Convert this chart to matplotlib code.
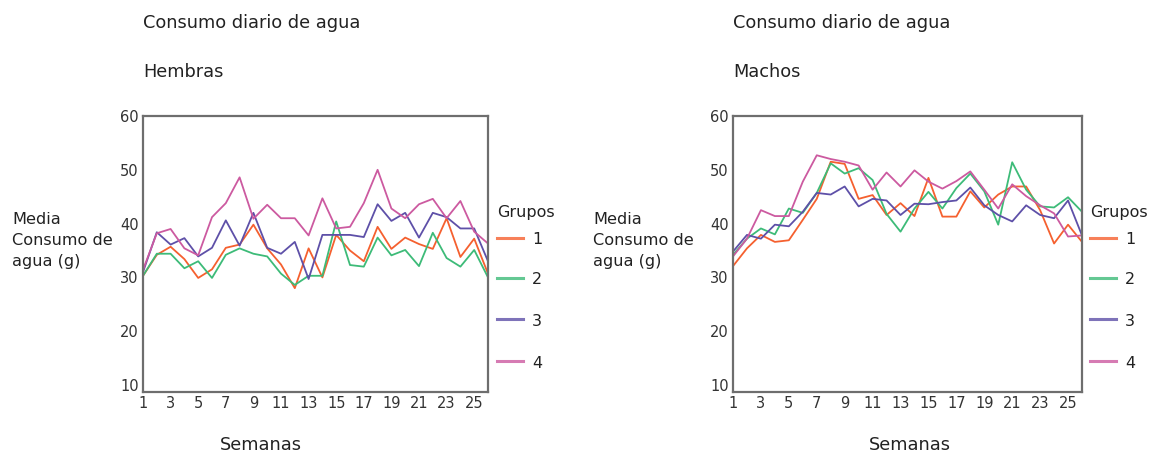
import matplotlib
matplotlib.use('Agg')
import matplotlib.pyplot as plt
from matplotlib.lines import Line2D

plt.rcParams['font.family'] = ['DejaVu Sans']

# weeks 1..26
weeks = list(range(1, 27))
groups = ['1', '2', '3', '4']
colors = ['#f5602f', '#3dbb78', '#5e50a8', '#cc5aa0']

# Hembras (females), one list per group
hem_g1 = [30.3, 34.2, 35.7, 33.4, 29.9, 31.5, 35.5, 36.1, 39.8, 35.4, 32.4, 28.0, 35.4,
          30.0, 37.9, 35.0, 33.0, 39.4, 35.3, 37.4, 36.2, 35.3, 41.0, 33.8, 37.2, 30.7]
hem_g2 = [30.3, 34.4, 34.4, 31.7, 33.0, 29.9, 34.2, 35.4, 34.4, 33.9, 30.7, 28.6, 30.3,
          30.3, 40.4, 32.3, 32.0, 37.4, 34.1, 35.1, 32.1, 38.3, 33.6, 32.0, 35.1, 30.0]
hem_g3 = [31.0, 38.4, 36.1, 37.3, 33.9, 35.5, 40.6, 35.9, 42.0, 35.5, 34.4, 36.6, 29.7,
          37.9, 37.9, 37.9, 37.5, 43.6, 40.5, 42.0, 37.4, 42.0, 41.2, 39.1, 39.1, 33.0]
hem_g4 = [31.4, 38.2, 39.0, 35.4, 34.1, 41.2, 43.8, 48.6, 40.9, 43.5, 41.0, 41.0, 37.8,
          44.7, 39.1, 39.4, 43.8, 50.0, 42.8, 41.0, 43.6, 44.6, 41.0, 44.2, 38.5, 36.3]

# Machos (males)
mac_g1 = [32.1, 35.4, 37.9, 36.6, 36.9, 40.7, 44.6, 51.5, 51.1, 44.6, 45.3, 41.6, 43.8,
          41.4, 48.5, 41.3, 41.3, 46.0, 43.0, 45.4, 46.9, 46.9, 42.5, 36.3, 39.8, 36.6]
mac_g2 = [34.2, 37.2, 39.1, 38.0, 42.8, 42.0, 45.7, 51.2, 49.3, 50.3, 48.1, 41.8, 38.5,
          42.8, 45.9, 42.8, 46.6, 49.3, 46.0, 39.8, 51.4, 46.3, 43.2, 43.0, 44.9, 42.2]
mac_g3 = [34.8, 37.9, 37.2, 39.8, 39.5, 42.2, 45.7, 45.4, 46.9, 43.2, 44.6, 44.3, 41.6,
          43.7, 43.6, 44.0, 44.3, 46.7, 43.4, 41.6, 40.4, 43.4, 41.6, 41.0, 44.3, 37.8]
mac_g4 = [33.9, 37.2, 42.5, 41.4, 41.4, 47.8, 52.7, 52.0, 51.5, 50.8, 46.3, 49.5, 46.9,
          49.9, 47.8, 46.5, 47.9, 49.7, 46.3, 42.8, 47.3, 45.1, 43.4, 41.9, 37.6, 37.8]

W, H = 1152, 458
fig = plt.figure(figsize=(W / 100, H / 100), dpi=100)


def px(x, y):
    return x / W, 1 - y / H


def panel(x0, x1, series, subtitle, ylab_x, sem_x, leg_x):
    ax = fig.add_axes([x0 / W, 1 - 392 / H, (x1 - x0) / W, 276 / H])
    for vals, c in zip(series, colors):
        ax.plot(weeks, vals, color=c, lw=1.3)
    ax.set_xlim(1, 26)
    ax.set_ylim(8.7, 60)
    ax.set_xticks(range(1, 26, 2))
    ax.set_yticks(range(10, 61, 10))
    ax.tick_params(length=0, labelsize=10.5, labelcolor='#333333', pad=3)
    for s in ax.spines.values():
        s.set_color('#6e6e6e')
        s.set_linewidth(1.6)

    fig.text(*px(x0, 23), 'Consumo diario de agua', fontsize=12.8, color='#222222', va='center')
    fig.text(*px(x0, 72), subtitle, fontsize=12.8, color='#222222', va='center')
    fig.text(*px(ylab_x, 212), 'Media\nConsumo de\nagua (g)', fontsize=11.6, color='#222222',
             va='top', ha='left', linespacing=1.5)
    fig.text(*px(sem_x, 445), 'Semanas', fontsize=12.8, color='#222222', va='center', ha='center')

    # legend
    fig.text(*px(leg_x, 212), 'Grupos', fontsize=11.5, color='#222222', va='center')
    for i, (g, c) in enumerate(zip(groups, colors)):
        yy = [238, 278, 319, 361][i]
        fig.add_artist(Line2D([leg_x / W, (leg_x + 26) / W], [1 - yy / H] * 2,
                              color=c, lw=2.2, alpha=0.8, transform=fig.transFigure))
        fig.text(*px(leg_x + 40, yy + 2), g, fontsize=11.5, color='#222222',
                 va='center', ha='center')
    return ax


panel(143, 488, [hem_g1, hem_g2, hem_g3, hem_g4], 'Hembras', 12, 261, 497)
panel(733, 1082, [mac_g1, mac_g2, mac_g3, mac_g4], 'Machos', 593, 910, 1090)

fig.savefig('out.png', dpi=100, facecolor='white')
